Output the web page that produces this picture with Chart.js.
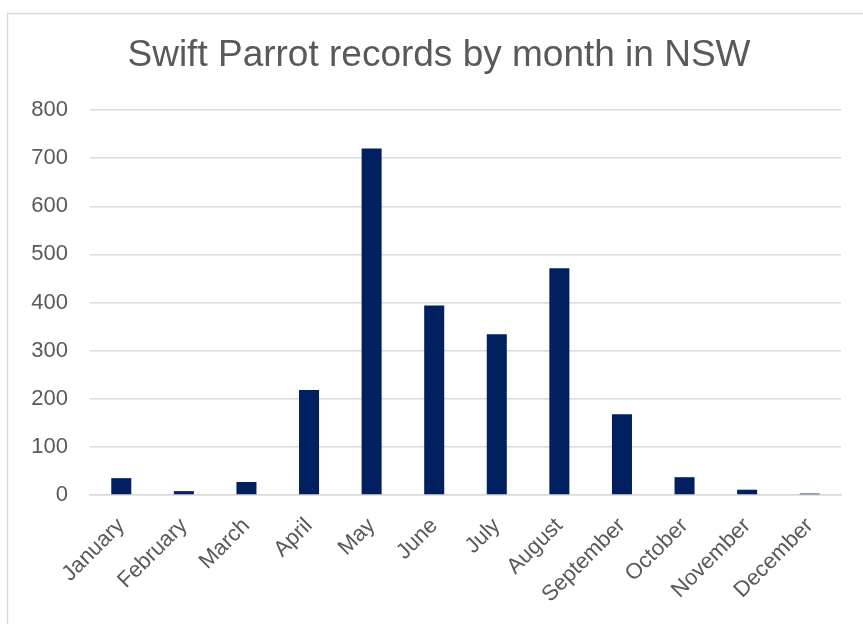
<!DOCTYPE html>
<html>
<head>
<meta charset="utf-8">
<script src="https://cdn.jsdelivr.net/npm/chart.js@4.4.0/dist/chart.umd.min.js"></script>
<style>
  html, body { margin: 0; padding: 0; background: #ffffff; }
  #wrap { position: relative; width: 863px; height: 624px; }
  canvas { display: block; }
</style>
</head>
<body>
<div id="wrap"><canvas id="c" width="863" height="624"></canvas></div>
<script>
const chartTitle = "Swift Parrot records by month in NSW";
const months = ["January", "February", "March", "April", "May", "June", "July", "August", "September", "October", "November", "December"];
const records = [35, 8, 27, 218, 720, 394, 334, 471, 168, 37, 11, 3];
const yTicks = [0, 100, 200, 300, 400, 500, 600, 700, 800];

const FONT = '"Liberation Sans", Arial, sans-serif';

const framePlugin = {
  id: 'frame',
  beforeDraw(chart) {
    const ctx = chart.ctx;
    ctx.save();
    ctx.fillStyle = '#ffffff';
    ctx.fillRect(0, 0, chart.width, chart.height);
    ctx.strokeStyle = '#d9d9d9';
    ctx.lineWidth = 1.5;
    ctx.strokeRect(7.5, 13.5, chart.width + 20, chart.height + 20);
    ctx.restore();
  },
  afterDraw(chart) {
    // title centred over the outer chart frame (which is offset from the canvas)
    const ctx = chart.ctx;
    ctx.save();
    ctx.fillStyle = '#595959';
    ctx.font = '37px ' + FONT;
    ctx.textAlign = 'center';
    ctx.textBaseline = 'alphabetic';
    ctx.fillText(chartTitle, 439, 66);
    ctx.restore();
  }
};

new Chart(document.getElementById('c'), {
  type: 'bar',
  data: {
    labels: months,
    datasets: [{
      label: 'Records',
      data: records,
      backgroundColor: '#002060',
      borderWidth: 0,
      barPercentage: 0.32,
      categoryPercentage: 1.0
    }]
  },
  options: {
    responsive: false,
    animation: false,
    devicePixelRatio: 1,
    layout: { padding: { left: 0, right: 22, top: 110, bottom: 0 } },
    plugins: {
      legend: { display: false },
      tooltip: { enabled: false },
      title: { display: false }
    },
    scales: {
      x: {
        grid: { display: false, drawTicks: false },
        border: { display: true, color: '#d9d9d9', width: 1.5 },
        ticks: {
          color: '#595959',
          font: { family: FONT, size: 22 },
          minRotation: 45,
          maxRotation: 45,
          autoSkip: false,
          padding: 18
        },
        afterFit(scale) { scale.height = 129; }
      },
      y: {
        min: 0,
        max: 800,
        afterBuildTicks(scale) { scale.ticks = yTicks.map(v => ({ value: v })); },
        grid: { color: '#d9d9d9', lineWidth: 1.5, drawTicks: false },
        border: { display: false },
        ticks: {
          color: '#595959',
          font: { family: FONT, size: 22 },
          padding: 22
        },
        afterFit(scale) { scale.width = 90; }
      }
    }
  },
  plugins: [framePlugin]
});
</script>
</body>
</html>
